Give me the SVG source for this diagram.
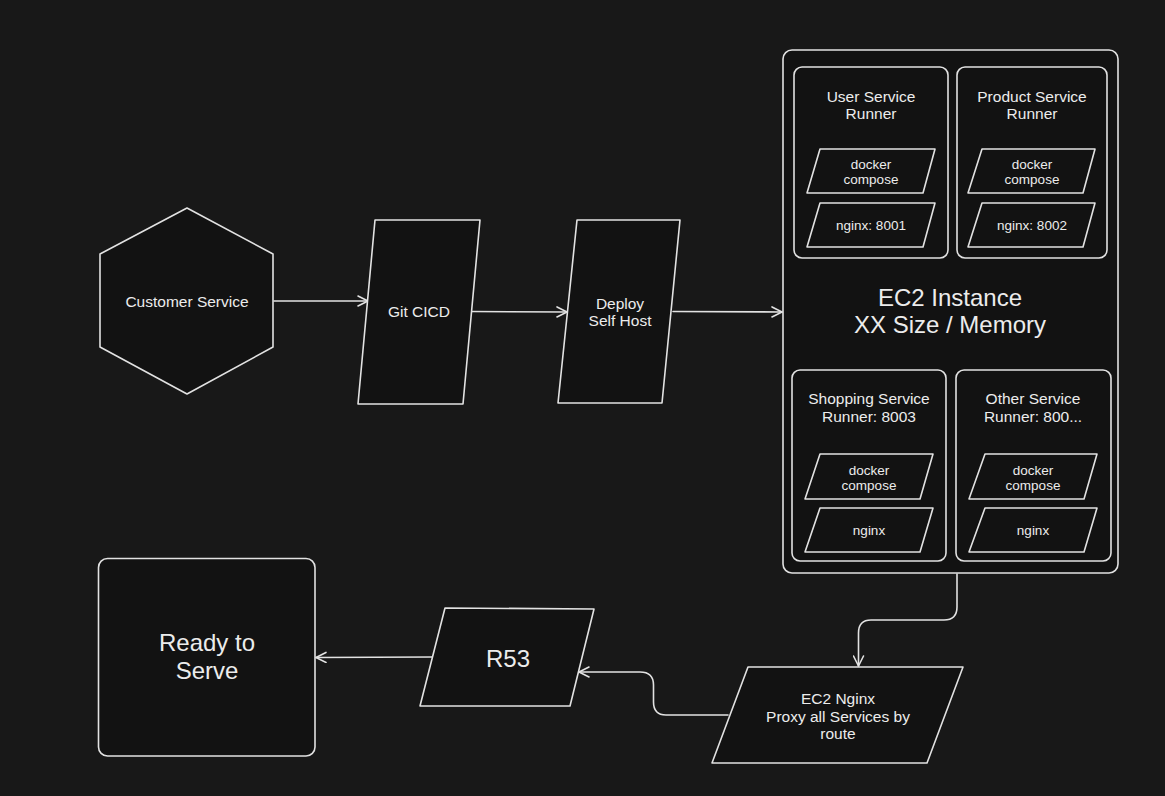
<svg xmlns="http://www.w3.org/2000/svg" width="1165" height="796" viewBox="0 0 1165 796">
<defs>
<style>
.s{fill:#121212;stroke:#e2e2e2;stroke-width:1.6;stroke-linejoin:round}
.c{fill:none;stroke:#e2e2e2;stroke-width:1.6;stroke-linecap:round;stroke-linejoin:round}
text{fill:#ececec;font-family:"Liberation Sans",Arial,Helvetica,sans-serif;text-anchor:middle}
.m{font-size:15.5px}
.sm{font-size:13.5px}
.l{font-size:24px}
</style>
<marker id="ah" viewBox="0 0 12 12" refX="11" refY="6" markerWidth="12" markerHeight="12" markerUnits="userSpaceOnUse" orient="auto">
<path d="M1,1 L11,6 L1,11" fill="none" stroke="#e2e2e2" stroke-width="1.6" stroke-linecap="round" stroke-linejoin="round"/>
</marker>
</defs>
<rect width="1165" height="796" fill="#181818"/>

<g id="connectors">
<path class="c" d="M274,301 L368,301" marker-end="url(#ah)"/>
<path class="c" d="M471,311.5 L567,312" marker-end="url(#ah)"/>
<path class="c" d="M673,311.5 L782,312" marker-end="url(#ah)"/>
<path class="c" d="M957,574 L957,607 Q957,620 944,620 L871,620 Q858.5,620 858.5,633 L858.5,666" marker-end="url(#ah)"/>
<path class="c" d="M728,715 L666,715 Q653.5,715 653.5,702 L653.5,685 Q653.5,672 640,672 L579,672" marker-end="url(#ah)"/>
<path class="c" d="M433,657 L316,657.5" marker-end="url(#ah)"/>
</g>

<g id="customer-service">
<polygon class="s" points="187,208 273,254 273,347 187,394 100,347 100,254"/>
<text class="m" x="187" y="306.5">Customer Service</text>
</g>

<g id="git-cicd">
<polygon class="s" points="375,220 480,220 463,404 358,404"/>
<text class="m" x="419" y="317">Git CICD</text>
</g>

<g id="deploy">
<polygon class="s" points="577,220 680,220 662,403 558,403"/>
<text class="m" x="620" y="308.5">Deploy</text>
<text class="m" x="620" y="325.5">Self Host</text>
</g>

<g id="ec2-instance">
<rect class="s" x="783" y="50" width="335" height="523" rx="9"/>
<text class="l" x="950" y="306">EC2 Instance</text>
<text class="l" x="950" y="333">XX Size / Memory</text>
</g>

<g id="user-service">
<rect class="s" x="794" y="67" width="154" height="191" rx="8"/>
<text class="m" x="871" y="101.5">User Service</text>
<text class="m" x="871" y="118.5">Runner</text>
<polygon class="s" points="820,149 935,149 923,193 807,193"/>
<text class="sm" x="871" y="168.5">docker</text>
<text class="sm" x="871" y="183.5">compose</text>
<polygon class="s" points="820,203 935,203 923,247 807,247"/>
<text class="sm" x="871" y="230">nginx: 8001</text>
</g>

<g id="product-service">
<rect class="s" x="957" y="67" width="150" height="191" rx="8"/>
<text class="m" x="1032" y="101.5">Product Service</text>
<text class="m" x="1032" y="118.5">Runner</text>
<polygon class="s" points="982,149 1095,149 1083,193 968,193"/>
<text class="sm" x="1032" y="168.5">docker</text>
<text class="sm" x="1032" y="183.5">compose</text>
<polygon class="s" points="982,203 1095,203 1083,247 968,247"/>
<text class="sm" x="1032" y="230">nginx: 8002</text>
</g>

<g id="shopping-service">
<rect class="s" x="792" y="370" width="154" height="191" rx="8"/>
<text class="m" x="869" y="404">Shopping Service</text>
<text class="m" x="869" y="421.5">Runner: 8003</text>
<polygon class="s" points="820,454 933,454 920,499 805,499"/>
<text class="sm" x="869" y="474.5">docker</text>
<text class="sm" x="869" y="489.5">compose</text>
<polygon class="s" points="820,508 933,508 920,552 805,552"/>
<text class="sm" x="869" y="535">nginx</text>
</g>

<g id="other-service">
<rect class="s" x="956" y="370" width="155" height="191" rx="8"/>
<text class="m" x="1033" y="404">Other Service</text>
<text class="m" x="1033" y="421.5">Runner: 800...</text>
<polygon class="s" points="985,454 1097,454 1084,499 969,499"/>
<text class="sm" x="1033" y="474.5">docker</text>
<text class="sm" x="1033" y="489.5">compose</text>
<polygon class="s" points="985,508 1097,508 1084,552 969,552"/>
<text class="sm" x="1033" y="535">nginx</text>
</g>

<g id="ec2-nginx">
<polygon class="s" points="748,667 963,667 927,763 712,763"/>
<text class="m" x="838" y="703.5">EC2 Nginx</text>
<text class="m" x="838" y="721.5">Proxy all Services by</text>
<text class="m" x="838" y="738.5">route</text>
</g>

<g id="r53">
<polygon class="s" points="445,608 594,609 570,706 420,706"/>
<text class="l" x="508" y="667">R53</text>
</g>

<g id="ready-to-serve">
<rect class="s" x="98.5" y="558.5" width="216.5" height="197.5" rx="9"/>
<text class="l" x="207" y="651">Ready to</text>
<text class="l" x="207" y="679">Serve</text>
</g>
</svg>
